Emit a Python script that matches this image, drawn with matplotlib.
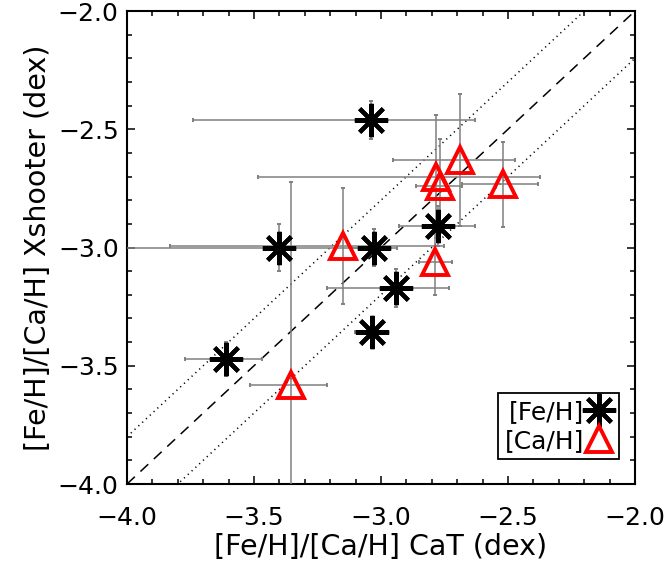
import numpy as np
import matplotlib
matplotlib.use("Agg")
import matplotlib.pyplot as plt
from matplotlib.lines import Line2D

# [Fe/H] (black asterisks): CaT value (x), Xshooter value (y)
fe_cat = [-3.04, -2.775, -3.40, -3.026, -2.941, -3.037, -3.61]
fe_xsh = [-2.46, -2.908, -3.00, -3.00, -3.172, -3.358, -3.473]
fe_xerr_lo = [0.70, 0.155, 0.70, 0.09, 0.27, 0.065, 0.16]
fe_xerr_hi = [0.41, 0.145, 0.41, 0.09, 0.21, 0.065, 0.14]
fe_yerr = [0.08, 0.085, 0.10, 0.08, 0.08, 0.053, 0.072]

# [Ca/H] (red open triangles)
ca_cat = [-2.783, -2.518, -3.15, -2.768, -2.689, -2.786, -3.353]
ca_xsh = [-2.70, -2.733, -2.993, -2.74, -2.63, -3.06, -3.582]
ca_xerr_lo = [0.70, 0.164, 0.68, 0.095, 0.265, 0.065, 0.163]
ca_xerr_hi = [0.41, 0.138, 0.40, 0.086, 0.217, 0.065, 0.139]
ca_yerr = [0.26, 0.18, 0.245, 0.20, 0.28, 0.14, 0.86]

# reference lines
one_to_one = [-4.0, -2.0]
offset = 0.2

xlabel = "[Fe/H]/[Ca/H] CaT (dex)"
ylabel = "[Fe/H]/[Ca/H] Xshooter (dex)"
ticks = [-4.0, -3.5, -3.0, -2.5, -2.0]

FS = 18
LFS = 20.5
plt.rcParams['font.family'] = ['DejaVu Sans']
fig = plt.figure(figsize=(6.66, 5.62), dpi=100)
ax = fig.add_axes([127/666, 78/562, 508/666, 473/562])

lx = np.array(one_to_one)
ax.plot(lx, lx, color='black', lw=1.1, ls=(0, (7, 5)), zorder=2)
ax.plot(lx, lx + offset, color='black', lw=1.1, ls=(0, (0.8, 2.6)), zorder=2)
ax.plot(lx, lx - offset, color='black', lw=1.1, ls=(0, (0.8, 2.6)), zorder=2)

ecol = '#808080'
ax.errorbar(fe_cat, fe_xsh, xerr=[fe_xerr_lo, fe_xerr_hi], yerr=fe_yerr,
            fmt='none', ecolor=ecol, elinewidth=1.1, capsize=1.6, capthick=1.4, zorder=3)
ax.errorbar(ca_cat, ca_xsh, xerr=[ca_xerr_lo, ca_xerr_hi], yerr=ca_yerr,
            fmt='none', ecolor=ecol, elinewidth=1.1, capsize=1.6, capthick=1.4, zorder=3)

ast = (8, 2, 0)
AMS, AMW = 24, 3.0
TMS, TMW = 19, 2.8
ax.plot(fe_cat, fe_xsh, ls='none', marker=ast, ms=AMS, mew=AMW, color='black', zorder=5)
ax.plot(ca_cat, ca_xsh, ls='none', marker='^', ms=TMS, mew=TMW, mec='red', mfc='none', zorder=5)

ax.set_xlim(-4.0, -2.0)
ax.set_ylim(-4.0, -2.0)
ax.set_xticks(ticks)
ax.set_yticks(ticks)
ax.set_xticklabels([f"\u2212{abs(t):.1f}" for t in ticks])
ax.set_yticklabels([f"\u2212{abs(t):.1f}" for t in ticks])
ax.set_xticks(np.arange(-4.0, -1.99, 0.1), minor=True)
ax.set_yticks(np.arange(-4.0, -1.99, 0.1), minor=True)
ax.tick_params(which='both', direction='in', top=True, right=True, width=1.1, labelsize=FS)
ax.tick_params(which='major', length=6)
ax.tick_params(which='minor', length=3.6)
ax.tick_params(axis='x', which='major', pad=16)
ax.tick_params(axis='y', which='major', pad=6)
for s in ax.spines.values():
    s.set_linewidth(1.5)

ax.set_xlabel(xlabel, fontsize=LFS, labelpad=2)
ax.set_ylabel(ylabel, fontsize=LFS, labelpad=4)

h1 = Line2D([], [], ls='none', marker=ast, ms=AMS, mew=AMW, color='black')
h2 = Line2D([], [], ls='none', marker='^', ms=TMS, mew=TMW, mec='red', mfc='none')
leg = ax.legend([h1, h2], ["[Fe/H]", "[Ca/H]"], loc='lower right',
                bbox_to_anchor=(0.9685, 0.053), markerfirst=False, fontsize=FS,
                frameon=True, fancybox=False, framealpha=1, edgecolor='black',
                handlelength=1.1, handletextpad=0.05, borderpad=0.25,
                labelspacing=0.2, borderaxespad=0)
leg.get_frame().set_linewidth(1.3)

fig.savefig("out.png", dpi=100)
